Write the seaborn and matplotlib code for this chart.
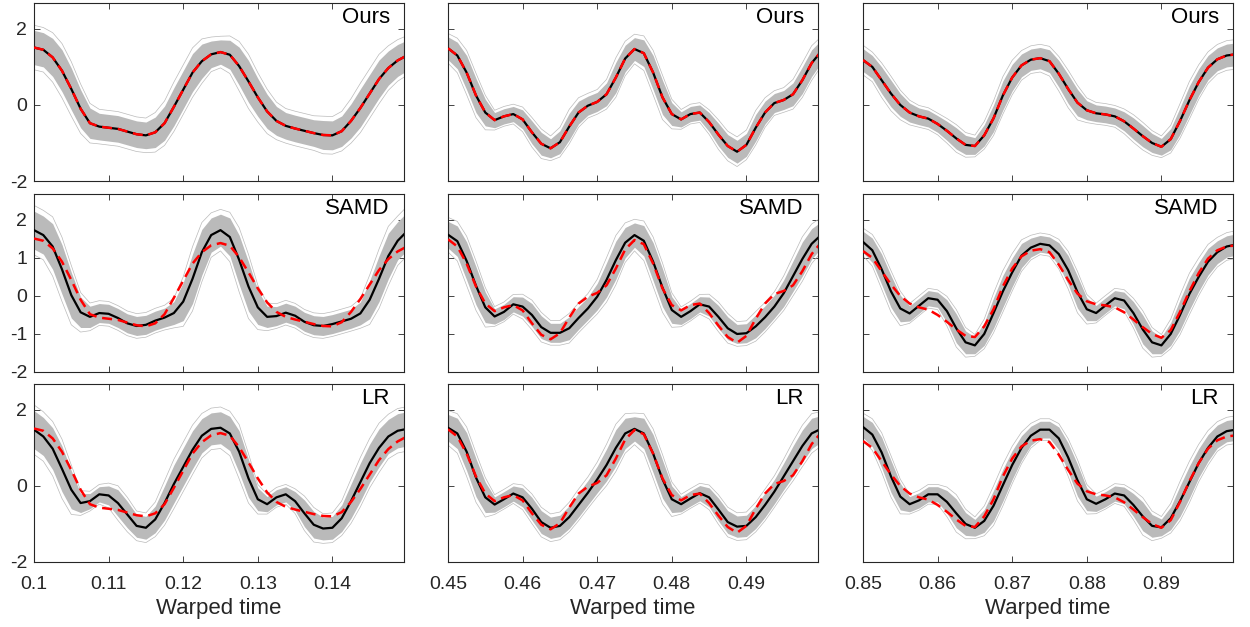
import numpy as np
import matplotlib
matplotlib.use("Agg")
import matplotlib.pyplot as plt
import seaborn as sns

# ---------------- data ----------------
col_starts = [0.10, 0.45, 0.85]
col_ticks = [[0.10, 0.11, 0.12, 0.13, 0.14],
             [0.45, 0.46, 0.47, 0.48, 0.49],
             [0.85, 0.86, 0.87, 0.88, 0.89]]
col_ticklabels = [["0.1", "0.11", "0.12", "0.13", "0.14"],
                  ["0.45", "0.46", "0.47", "0.48", "0.49"],
                  ["0.85", "0.86", "0.87", "0.88", "0.89"]]
methods = ["Ours", "SAMD", "LR"]
n_samples = 41          # one sample every 0.00125 of warped time
sample_step = 0.00125

# ground truth (red dashed) per column
true_c1 = [1.51, 1.45, 1.25, 0.9, 0.42, -0.1, -0.48, -0.57, -0.6, -0.63, -0.7, -0.77, -0.8, -0.72,
           -0.48, -0.05, 0.4, 0.85, 1.15, 1.33, 1.39, 1.32, 1.02, 0.62, 0.2, -0.17, -0.42, -0.55,
           -0.62, -0.68, -0.74, -0.79, -0.8, -0.69, -0.42, -0.08, 0.3, 0.68, 0.97, 1.17, 1.3]
true_c2 = [1.49, 1.3, 0.85, 0.25, -0.2, -0.4, -0.3, -0.24, -0.38, -0.72, -1.02, -1.14, -0.98, -0.57,
           -0.2, -0.02, 0.08, 0.28, 0.72, 1.22, 1.47, 1.36, 0.85, 0.2, -0.24, -0.38, -0.24, -0.2,
           -0.45, -0.78, -1.08, -1.23, -1.05, -0.6, -0.2, 0.05, 0.13, 0.28, 0.65, 1.1, 1.4]
true_c3 = [1.18, 1.0, 0.65, 0.3, 0.0, -0.2, -0.3, -0.36, -0.5, -0.68, -0.88, -1.05, -1.08, -0.8,
           -0.35, 0.25, 0.72, 1.04, 1.19, 1.23, 1.15, 0.82, 0.42, 0.06, -0.14, -0.22, -0.25, -0.3,
           -0.43, -0.62, -0.82, -1.0, -1.1, -0.9, -0.42, 0.12, 0.6, 0.98, 1.2, 1.3, 1.33]

# mean estimates (black) per panel
ours_c1 = list(true_c1)
samd_c1 = [1.73, 1.6, 1.3, 0.7, 0.02, -0.43, -0.55, -0.45, -0.47, -0.58, -0.72, -0.79, -0.76, -0.65,
           -0.57, -0.45, -0.15, 0.45, 1.15, 1.6, 1.73, 1.55, 0.95, 0.25, -0.3, -0.55, -0.53, -0.44,
           -0.52, -0.68, -0.77, -0.79, -0.74, -0.67, -0.6, -0.46, -0.1, 0.45, 1.05, 1.45, 1.7]
lr_c1 = [1.48, 1.3, 0.98, 0.45, -0.1, -0.45, -0.4, -0.22, -0.25, -0.45, -0.75, -1.05, -1.1, -0.88,
         -0.45, 0.05, 0.5, 0.95, 1.32, 1.5, 1.53, 1.38, 0.9, 0.2, -0.35, -0.48, -0.3, -0.22, -0.4,
         -0.72, -1.02, -1.12, -1.1, -0.85, -0.4, 0.1, 0.6, 1.0, 1.3, 1.45, 1.5]
ours_c2 = list(true_c2)
samd_c2 = [1.61, 1.44, 0.92, 0.27, -0.3, -0.54, -0.42, -0.22, -0.28, -0.5, -0.82, -0.97, -0.97, -0.85,
           -0.58, -0.33, -0.02, 0.42, 0.94, 1.4, 1.6, 1.45, 0.9, 0.22, -0.37, -0.55, -0.4, -0.22,
           -0.28, -0.55, -0.85, -1.0, -0.98, -0.8, -0.56, -0.28, 0.07, 0.52, 0.97, 1.37, 1.6]
lr_c2 = [1.53, 1.38, 0.9, 0.22, -0.3, -0.49, -0.35, -0.2, -0.3, -0.6, -0.95, -1.1, -1.05, -0.82,
         -0.5, -0.18, 0.17, 0.55, 1.0, 1.38, 1.5, 1.38, 0.85, 0.18, -0.35, -0.48, -0.33, -0.19, -0.3,
         -0.62, -0.95, -1.07, -1.05, -0.82, -0.5, -0.15, 0.25, 0.65, 1.05, 1.38, 1.5]
ours_c3 = list(true_c3)
samd_c3 = [1.42, 1.2, 0.7, 0.12, -0.33, -0.46, -0.26, -0.06, -0.1, -0.4, -0.85, -1.22, -1.3, -1.0,
           -0.45, 0.12, 0.62, 1.06, 1.27, 1.37, 1.33, 1.1, 0.68, 0.1, -0.35, -0.45, -0.25, -0.06,
           -0.12, -0.45, -0.88, -1.22, -1.3, -1.0, -0.5, 0.05, 0.5, 0.9, 1.15, 1.3, 1.35]
lr_c3 = [1.55, 1.35, 0.88, 0.25, -0.28, -0.48, -0.38, -0.22, -0.22, -0.42, -0.72, -1.0, -1.1, -0.92,
         -0.52, 0.02, 0.55, 1.0, 1.32, 1.48, 1.48, 1.25, 0.75, 0.15, -0.35, -0.47, -0.35, -0.2,
         -0.25, -0.5, -0.8, -1.05, -1.09, -0.85, -0.4, 0.1, 0.6, 1.0, 1.3, 1.44, 1.48]

# half-width of the dense grey bundle of individual curves per panel
spread_ours_c1 = [.45, .45, .5, .55, .55, .5, .4, .35, .35, .35, .35, .35, .35, .4, .45, .5, .5, .5,
                  .45, .35, .32, .38, .5, .55, .5, .45, .38, .35, .35, .35, .35, .38, .38, .4, .45,
                  .5, .5, .5, .45, .42, .4]
spread_samd_c1 = [.5, .5, .6, .65, .6, .4, .28, .25, .25, .25, .25, .25, .25, .25, .25, .3, .5, .65,
                  .6, .45, .42, .5, .65, .65, .45, .28, .25, .25, .25, .25, .25, .25, .25, .25, .25,
                  .3, .5, .6, .6, .5, .5]
spread_lr_c1 = [.5, .5, .55, .6, .5, .25, .2, .2, .25, .35, .35, .3, .3, .35, .45, .5, .5, .5, .45,
                .42, .42, .45, .55, .5, .3, .2, .2, .2, .25, .35, .35, .3, .3, .35, .45, .5, .5, .5,
                .45, .45, .45]
spread_ours_c2 = [.3, .35, .45, .45, .35, .2, .2, .2, .25, .3, .3, .25, .3, .35, .3, .25, .25, .3, .4,
                  .35, .3, .35, .45, .45, .3, .2, .2, .2, .25, .3, .3, .3, .3, .35, .3, .25, .25, .3,
                  .35, .35, .3]
spread_samd_c2 = [.35, .4, .5, .5, .4, .2, .2, .2, .25, .3, .3, .25, .25, .3, .3, .3, .35, .45, .5,
                  .4, .32, .4, .5, .5, .35, .2, .2, .2, .25, .3, .3, .25, .25, .3, .3, .3, .35, .4,
                  .45, .4, .35]
spread_lr_c2 = [.35, .4, .5, .5, .4, .2, .2, .2, .25, .3, .3, .28, .28, .3, .32, .32, .35, .42, .48,
                .4, .32, .4, .5, .5, .35, .2, .2, .2, .25, .3, .3, .28, .28, .3, .32, .32, .35, .4,
                .42, .4, .35]
spread_ours_c3 = [.3, .3, .35, .35, .3, .25, .22, .22, .22, .25, .28, .25, .22, .28, .35, .38, .35,
                  .3, .28, .28, .3, .35, .38, .35, .25, .22, .22, .22, .25, .28, .28, .25, .22, .28,
                  .35, .38, .35, .32, .3, .3, .3]
spread_samd_c3 = [.28, .32, .4, .42, .35, .2, .2, .2, .2, .3, .38, .3, .22, .3, .4, .42, .38, .32,
                  .25, .22, .22, .3, .38, .42, .3, .2, .2, .2, .22, .3, .38, .3, .22, .3, .4, .42,
                  .38, .35, .3, .28, .28]
spread_lr_c3 = [.28, .32, .4, .42, .35, .2, .2, .2, .2, .3, .38, .3, .22, .3, .4, .42, .38, .32, .25,
                .22, .22, .3, .38, .42, .3, .2, .2, .2, .22, .3, .38, .3, .22, .3, .4, .42, .38, .35,
                .3, .28, .28]

truths = [true_c1, true_c2, true_c3]
means = [[ours_c1, ours_c2, ours_c3], [samd_c1, samd_c2, samd_c3], [lr_c1, lr_c2, lr_c3]]
spreads = [[spread_ours_c1, spread_ours_c2, spread_ours_c3],
           [spread_samd_c1, spread_samd_c2, spread_samd_c3],
           [spread_lr_c1, spread_lr_c2, spread_lr_c3]]

# ---------------- styling ----------------
sns.set_style("ticks")
plt.rcParams["font.family"] = ["Liberation Sans", "DejaVu Sans"]
plt.rcParams["axes.unicode_minus"] = False

W, H = 1250, 627
fig = plt.figure(figsize=(W / 100, H / 100), dpi=100)
lefts_px = [34, 448, 863]
tops_px = [3, 194, 384]
w_px, h_px = 370, 178
axis_col = "#262626"
grey = "#bababa"

for r in range(3):
    for c in range(3):
        ax = fig.add_axes([lefts_px[c] / W, 1 - (tops_px[r] + h_px) / H, w_px / W, h_px / H])
        t = np.round(col_starts[c] + sample_step * np.arange(n_samples), 6)
        m = np.asarray(means[r][c])
        s = np.asarray(spreads[r][c])
        # sparse outer curves of the bundle (thin light lines) and dense core (filled)
        ax.plot(t, m - 1.3 * s, color=grey, lw=0.5, zorder=1, solid_joinstyle="round")
        ax.plot(t, m + 1.3 * s, color=grey, lw=0.5, zorder=1, solid_joinstyle="round")
        ax.fill_between(t, m - s, m + s, color=grey, linewidth=0, zorder=1)
        sns.lineplot(x=t, y=m, ax=ax, color="black", linewidth=1.6,
                     estimator=None, sort=False, zorder=3)
        ax.lines[-1].set_solid_joinstyle("round")
        sns.lineplot(x=t, y=np.asarray(truths[c]), ax=ax, color="#ff0000", linewidth=1.8,
                     estimator=None, sort=False, zorder=4)
        ax.lines[-1].set_dashes((4.0, 2.3))
        ax.lines[-1].set_dash_joinstyle("round")

        ax.set_xlim(col_starts[c], col_starts[c] + 0.0496)
        ax.set_ylim(-2, 2.68)
        ax.set_xticks(col_ticks[c])
        ax.set_xticklabels(col_ticklabels[c])
        if r == 1:
            ax.set_yticks([-2, -1, 0, 1, 2])
        else:
            ax.set_yticks([-2, 0, 2])
        ax.set_yticklabels([str(v) for v in ax.get_yticks().astype(int)])
        ax.tick_params(direction="in", top=True, right=True, length=4, width=0.6,
                       colors=axis_col, labelsize=14, pad=5,
                       labelleft=(c == 0), labelbottom=(r == 2))
        ax.tick_params(axis="x", pad=10)
        for sp in ax.spines.values():
            sp.set_color(axis_col)
            sp.set_linewidth(0.8)
            sp.set_visible(True)
        ax.set_xlabel("Warped time" if r == 2 else "", fontsize=16, color=axis_col, labelpad=4)
        ax.set_ylabel("")
        ax.text(0.962, 0.975, methods[r], transform=ax.transAxes, ha="right", va="top",
                fontsize=16, color="black", zorder=5)

fig.savefig("out.png", dpi=100)
